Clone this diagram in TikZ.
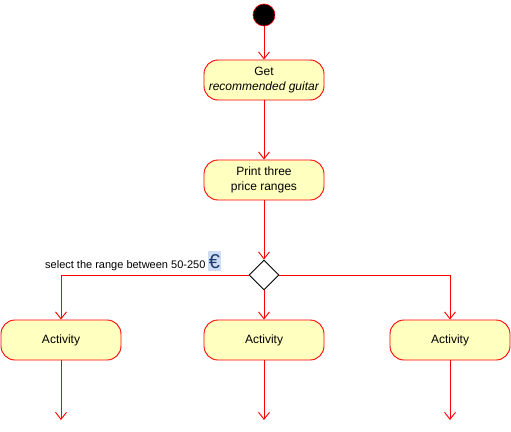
\documentclass[tikz,border=0pt]{standalone}
\usepackage{fontspec}
\setmainfont{Liberation Sans}
\usetikzlibrary{arrows.meta,shapes.geometric}
\definecolor{actfill}{HTML}{FFFFC0}
\definecolor{eurobg}{HTML}{CCDDF5}
\definecolor{eurofg}{HTML}{1F3A6E}
\tikzset{
  actbox/.style={draw=red, fill=actfill, line width=0.9pt, rounded corners=14pt, minimum width=120pt, minimum height=40pt, align=center, inner sep=0pt, font=\fontsize{12}{15}\selectfont},
  flow/.style={draw=red, line width=0.9pt, -{Straight Barb[length=7pt,width=11pt]}},
}
\begin{document}
\begin{tikzpicture}[x=1pt,y=-1pt]
\useasboundingbox (0,0) rectangle (511,431);
\node[circle, fill=black, draw=red, line width=0.6pt, minimum size=22pt, inner sep=0pt] (start) at (264,15) {};
\node[actbox] (get) at (264,80) {Get\\\textit{recommended guitar}};
\node[actbox] (print) at (264,180) {Print three\\price ranges};
\node[diamond, draw=black, fill=white, line width=0.9pt, minimum width=30pt, minimum height=30pt, inner sep=0pt] (dec) at (264,275) {};
\node[actbox] (a1) at (61,340) {Activity};
\node[actbox] (a2) at (264,340) {Activity};
\node[actbox] (a3) at (450,340) {Activity};
\coordinate (e1) at (61,420);
\coordinate (e2) at (264,420);
\coordinate (e3) at (450,420);
\draw[flow] (start) -- (get);
\draw[flow] (get) -- (print);
\draw[flow] (print) -- (dec);
\draw[flow] (dec.west) -| (a1.north);
\draw[flow] (dec.south) -- (a2.north);
\draw[flow] (dec.east) -| (a3.north);
\draw[flow] (a1) -- (e1);
\draw[flow] (a2) -- (e2);
\draw[flow] (a3) -- (e3);
\node[anchor=base west, inner sep=0pt, font=\fontsize{11}{12}\selectfont] (lbl) at (45,268) {select the range between 50-250 \colorbox{eurobg}{\hspace{-2.5pt}\textcolor{eurofg}{\fontsize{20}{20}\selectfont €}\hspace{-2.5pt}}};
\end{tikzpicture}
\end{document}
